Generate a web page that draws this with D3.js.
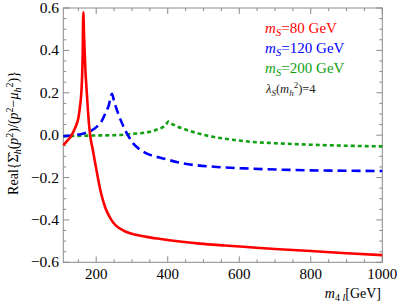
<!DOCTYPE html>
<html>
<head>
<meta charset="utf-8">
<script src="https://cdn.jsdelivr.net/npm/d3@7"></script>
<style>
  body { margin: 0; background: #fff; }
  text { font-family: "Liberation Serif", "DejaVu Serif", serif; }
</style>
</head>
<body>
<div id="container"></div>
<script>
// x in GeV, y = Real{...}
const redMs80 = [
    [108, -0.047], [120, -0.025], [130, -0.004], [140, 0.03], [146, 0.055], [150, 0.08],
    [155, 0.14], [158, 0.19], [160, 0.25], [162, 0.36], [164, 0.58], [166, 0.47],
    [168, 0.38], [170, 0.3], [173, 0.22], [176, 0.14], [180, 0.05], [183, 0.0],
    [190, -0.065], [197, -0.13], [204, -0.195], [211, -0.255], [218, -0.302], [225, -0.34],
    [232, -0.368], [239, -0.39], [248, -0.413], [260, -0.433], [275, -0.449], [295, -0.463],
    [340, -0.48], [380, -0.49], [440, -0.503], [490, -0.512], [560, -0.521], [630, -0.529],
    [700, -0.537], [800, -0.547], [900, -0.557], [1000, -0.566]
];
const blueMs120 = [
    [108, -0.005], [140, 0.0], [165, 0.008], [185, 0.02], [202, 0.04], [215, 0.065],
    [225, 0.1], [235, 0.14], [244, 0.195], [250, 0.16], [258, 0.118], [270, 0.065],
    [281, 0.024], [292, -0.01], [304, -0.04], [320, -0.065], [342, -0.087], [387, -0.11],
    [443, -0.133], [537, -0.15], [630, -0.158], [720, -0.163], [800, -0.166], [900, -0.168],
    [1000, -0.169]
];
const greenMs200 = [
    [108, -0.005], [180, -0.002], [258, 0.0], [300, 0.006], [351, 0.016], [375, 0.03],
    [388, 0.04], [396, 0.053], [402, 0.064], [410, 0.055], [425, 0.042], [444, 0.03],
    [480, 0.01], [518, -0.005], [560, -0.017], [593, -0.024], [630, -0.031], [700, -0.038],
    [800, -0.045], [900, -0.05], [1000, -0.053]
];
const xTicks = [200, 400, 600, 800, 1000];
const yTicks = [-0.6, -0.4, -0.2, 0.0, 0.2, 0.4, 0.6];

const width = 399, height = 306;
const pLeft = 63.3, pRight = 382.3, pTop = 8, pBottom = 262.3;

const svg = d3.select('#container')
              .append('svg')
              .attr('width', width)
              .attr('height', height);

const x = d3.scaleLinear().domain([108, 1000]).range([pLeft, pRight]);
const y = d3.scaleLinear().domain([-0.6, 0.6]).range([pBottom, pTop]);

const frameColor = '#8a8a8a';

// minor + major ticks on all four sides, pointing in
const xMinor = d3.range(150, 1000, 50).filter(v => v % 200 !== 0);
const yMinor = d3.range(-0.55, 0.6, 0.05).map(v => +v.toFixed(2)).filter(v => Math.abs(Math.round(v * 100)) % 20 !== 0);

function ticksX(vals, len) {
    svg.append('g').selectAll('line').data(vals).enter().append('line')
       .attr('x1', d => x(d)).attr('x2', d => x(d))
       .attr('y1', pBottom).attr('y2', pBottom - len)
       .attr('stroke', frameColor).attr('stroke-width', 1);
    svg.append('g').selectAll('line').data(vals).enter().append('line')
       .attr('x1', d => x(d)).attr('x2', d => x(d))
       .attr('y1', pTop).attr('y2', pTop + len)
       .attr('stroke', frameColor).attr('stroke-width', 1);
}
function ticksY(vals, len) {
    svg.append('g').selectAll('line').data(vals).enter().append('line')
       .attr('y1', d => y(d)).attr('y2', d => y(d))
       .attr('x1', pLeft).attr('x2', pLeft + len)
       .attr('stroke', frameColor).attr('stroke-width', 1);
    svg.append('g').selectAll('line').data(vals).enter().append('line')
       .attr('y1', d => y(d)).attr('y2', d => y(d))
       .attr('x1', pRight).attr('x2', pRight - len)
       .attr('stroke', frameColor).attr('stroke-width', 1);
}
ticksX(xMinor, 3);
ticksX(xTicks, 6);
ticksY(yMinor, 3);
ticksY(yTicks, 6);

svg.append('rect')
   .attr('x', pLeft).attr('y', pTop)
   .attr('width', pRight - pLeft).attr('height', pBottom - pTop)
   .attr('fill', 'none').attr('stroke', frameColor).attr('stroke-width', 1);

// tick labels
svg.append('g').selectAll('text').data(xTicks).enter().append('text')
   .attr('x', d => x(d)).attr('y', 279)
   .attr('text-anchor', 'middle')
   .attr('font-size', 15)
   .text(d => d);
svg.append('g').selectAll('text').data(yTicks).enter().append('text')
   .attr('x', 59).attr('y', d => y(d) + 5)
   .attr('text-anchor', 'end')
   .attr('font-size', 15.5)
   .text(d => (d < 0 ? '\u2212' : '') + Math.abs(d).toFixed(1));

// curves
const line = d3.line().x(d => x(d[0])).y(d => y(d[1])).curve(d3.curveMonotoneX);

svg.append('path').datum(greenMs200)
   .attr('d', line).attr('fill', 'none')
   .attr('stroke', '#11a011').attr('stroke-width', 2.6)
   .attr('stroke-dasharray', '4,3');
svg.append('path').datum(blueMs120)
   .attr('d', line).attr('fill', 'none')
   .attr('stroke', '#0000ff').attr('stroke-width', 2.6)
   .attr('stroke-dasharray', '9,5');
svg.append('path').datum(redMs80)
   .attr('d', line).attr('fill', 'none')
   .attr('stroke', '#ff0000').attr('stroke-width', 2.6);

// legend
const legend = [
    { txt: '=80 GeV', color: '#ff0000', y: 33 },
    { txt: '=120 GeV', color: '#0000ff', y: 53 },
    { txt: '=200 GeV', color: '#11a011', y: 73 }
];
legend.forEach(l => {
    const t = svg.append('text').attr('x', 265).attr('y', l.y)
                 .attr('font-size', 15).attr('fill', l.color);
    t.append('tspan').attr('font-style', 'italic').text('m');
    t.append('tspan').attr('font-style', 'italic').attr('font-size', 11).attr('dy', 3).text('S');
    t.append('tspan').attr('dy', -3).text(l.txt);
});
const lam = svg.append('text').attr('x', 266).attr('y', 93).attr('font-size', 12.5).attr('fill', '#222');
lam.append('tspan').attr('font-style', 'italic').text('\u03bb');
lam.append('tspan').attr('font-style', 'italic').attr('font-size', 9).attr('dy', 3).text('S');
lam.append('tspan').attr('dy', -3).text('(');
lam.append('tspan').attr('font-style', 'italic').text('m');
lam.append('tspan').attr('font-style', 'italic').attr('font-size', 9).attr('dy', 3).text('h');
lam.append('tspan').attr('font-size', 9).attr('dy', -8).text('2');
lam.append('tspan').attr('dy', 5).text(')=4');

// x label
const xl = svg.append('text').attr('x', 381).attr('y', 298)
              .attr('text-anchor', 'end').attr('font-size', 14);
xl.append('tspan').attr('font-style', 'italic').text('m');
xl.append('tspan').attr('font-size', 10).attr('dy', 3).text('4 ');
xl.append('tspan').attr('font-style', 'italic').attr('font-size', 10).text('l');
xl.append('tspan').attr('dy', -3).text('[GeV]');

// y label
const yl = svg.append('text')
              .attr('transform', 'translate(18,133) rotate(-90)')
              .attr('text-anchor', 'middle').attr('font-size', 14);
yl.append('tspan').text('Real{\u03a3\u0302');
yl.append('tspan').attr('font-style', 'italic').attr('font-size', 10).attr('dy', 3).text('h');
yl.append('tspan').attr('dy', -3).text('(');
yl.append('tspan').attr('font-style', 'italic').text('p');
yl.append('tspan').attr('font-size', 10).attr('dy', -5).text('2');
yl.append('tspan').attr('dy', 5).text(')/(');
yl.append('tspan').attr('font-style', 'italic').text('p');
yl.append('tspan').attr('font-size', 10).attr('dy', -5).text('2');
yl.append('tspan').attr('dy', 5).text('\u2212');
yl.append('tspan').attr('font-style', 'italic').text('\u03bc');
yl.append('tspan').attr('font-style', 'italic').attr('font-size', 10).attr('dy', 3).text('h');
yl.append('tspan').attr('font-size', 10).attr('dy', -8).text('2');
yl.append('tspan').attr('dy', 5).text(')}');
</script>
</body>
</html>
